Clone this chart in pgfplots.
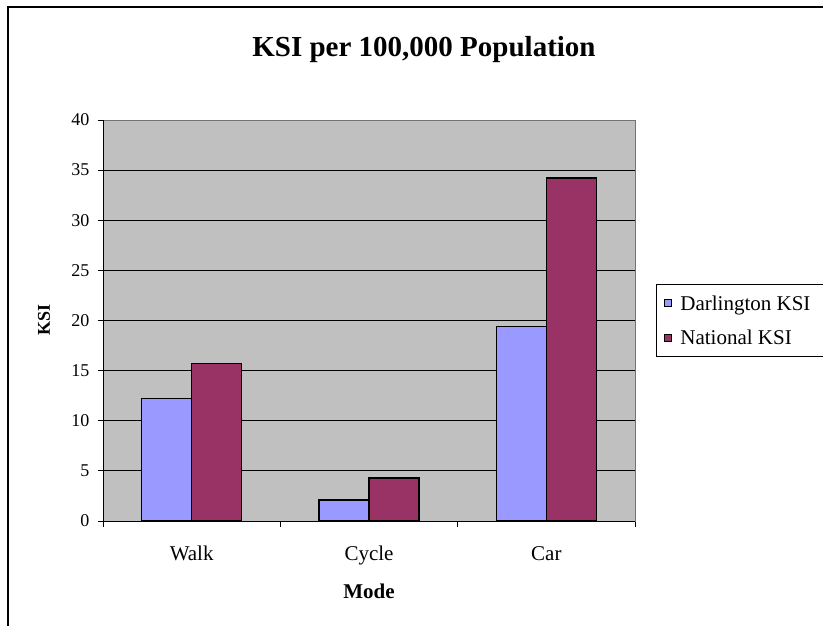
\documentclass[border=0pt]{standalone}
\usepackage{pgfplots}
\pgfplotsset{compat=1.18}
\usepackage{fontspec}
\setmainfont{Liberation Serif}
\definecolor{darl}{HTML}{9999FF}
\definecolor{nat}{HTML}{993366}
\definecolor{plotbg}{HTML}{C0C0C0}
\begin{document}
\begin{tikzpicture}
\useasboundingbox (0pt,0pt) rectangle (823pt,625pt);
\fill[white] (0pt,0pt) rectangle (823pt,625pt);
\draw[line width=1.5pt] (8pt,-10pt) -- (8pt,618pt) -- (840pt,618pt);
\node[font=\fontsize{29}{34}\selectfont\bfseries] at (424pt,575pt) {KSI per 100,000 Population};
\node[font=\fontsize{18}{22}\selectfont\bfseries, rotate=90] at (44pt,305pt) {KSI};
\node[font=\fontsize{21}{25}\selectfont\bfseries] at (369pt,34pt) {Mode};
\begin{axis}[
  at={(103pt,104pt)}, anchor=south west,
  width=532pt, height=401pt, scale only axis,
  xmin=-0.5, xmax=2.5, ymin=0, ymax=40,
  ybar, bar width=50pt,
  axis background/.style={fill=plotbg},
  axis line style={draw=gray!90!black, line width=0.8pt},
  ytick={0,5,...,40},
  xtick={0,1,2},
  xticklabels={Walk,Cycle,Car},
  minor xtick={-0.5,0.5,1.5,2.5},
  xtick pos=bottom, ytick pos=left,
  xtick style={draw=none},
  minor x tick style={draw=black, line width=0.8pt},
  minor tick length=6pt,
  major tick length=5pt,
  ytick style={draw=black, line width=0.8pt},
  tick align=outside,
  ymajorgrids, grid style={black, line width=0.8pt},
  /pgf/number format/assume math mode=true,
  yticklabel style={font=\fontsize{18}{22}\selectfont, xshift=-5pt},
  xticklabel style={font=\fontsize{21}{25}\selectfont, anchor=base, yshift=-34pt},
  legend style={at={(1,0.5)}, anchor=west, xshift=21pt, draw=black, line width=0.8pt,
    font=\fontsize{21}{25}\selectfont, inner xsep=8pt, inner ysep=9pt,
    row sep=14pt, legend cell align=left,
    nodes={inner xsep=8pt}},
  legend image code/.code={\draw[#1, draw=black, line width=1pt] (0pt,-3.5pt) rectangle (7pt,3.5pt);},
]
\addplot[fill=darl, draw=black, line width=1.3pt, bar shift=-25pt] coordinates {(0,12.2) (1,2.1) (2,19.4)};
\addplot[fill=nat, draw=black, line width=1.3pt, bar shift=25pt] coordinates {(0,15.7) (1,4.3) (2,34.2)};
\legend{Darlington KSI, National KSI}
\draw[black, line width=0.8pt] (rel axis cs:0,1) -- (rel axis cs:0,0) -- (rel axis cs:1,0);
\end{axis}
\end{tikzpicture}
\end{document}
